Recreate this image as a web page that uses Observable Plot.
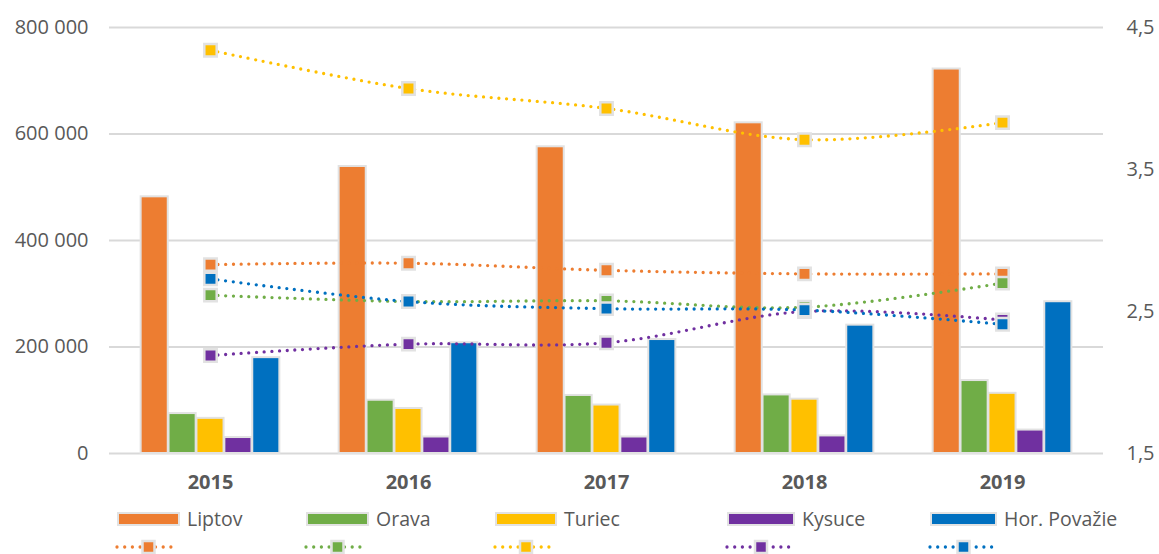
<!DOCTYPE html>
<html><head><meta charset="utf-8">
<script src="https://cdn.jsdelivr.net/npm/d3@7"></script>
<script src="https://cdn.jsdelivr.net/npm/@observablehq/plot@0.6"></script>
<style>
body{margin:0;background:#fff;font-family:"Open Sans",sans-serif;}
#wrap{position:relative;width:1159px;height:554px;overflow:hidden;}
#chart{position:absolute;left:0;top:0;}
#legend{position:absolute;left:0;top:500px;}
</style></head><body><div id="wrap"><div id="chart"></div><svg id="legend" width="1159" height="54"></svg></div>
<script>
const years = ["2015", "2016", "2017", "2018", "2019"];
const regions = ["Liptov", "Orava", "Turiec", "Kysuce", "Hor. Považie"];
const colors = ["#ED7D31", "#70AD47", "#FFC000", "#7030A0", "#0070C0"];
// bars (left axis)
const liptovBars = [482000, 539000, 576000, 621000, 722000];
const oravaBars  = [75000, 100000, 109000, 110000, 137000];
const turiecBars = [66000, 84500, 91000, 102000, 113000];
const kysuceBars = [30000, 31000, 31000, 33000, 44000];
const hpBars     = [180000, 208000, 214000, 241000, 285000];
// lines (right axis)
const liptovLine = [2.83, 2.84, 2.79, 2.765, 2.765];
const oravaLine  = [2.615, 2.57, 2.575, 2.53, 2.70];
const turiecLine = [4.34, 4.07, 3.93, 3.71, 3.83];
const kysuceLine = [2.19, 2.27, 2.28, 2.50, 2.44];
const hpLine     = [2.73, 2.57, 2.52, 2.51, 2.41];
// ticks
const leftTicks = [0, 200000, 400000, 600000, 800000];
const rightTicks = [1.5, 2.5, 3.5, 4.5];
const rightDomain = [1.5, 4.5];
const leftDomain = [0, 800000];

const barSeries = [liptovBars, oravaBars, turiecBars, kysuceBars, hpBars];
const lineSeries = [liptovLine, oravaLine, turiecLine, kysuceLine, hpLine];
const toLeft = v => (v - rightDomain[0]) / (rightDomain[1] - rightDomain[0]) * (leftDomain[1] - leftDomain[0]) + leftDomain[0];
const fromLeft = d => (d - leftDomain[0]) / (leftDomain[1] - leftDomain[0]) * (rightDomain[1] - rightDomain[0]) + rightDomain[0];
const fmtL = d3.formatLocale({thousands: " ", grouping: [3], decimal: ","}).format(",");
const fmtR = d => d3.format(".1f")(fromLeft(d)).replace(".", ",");

const bars = regions.flatMap((r, i) => years.map((y, j) => ({year: y, region: r, value: barSeries[i][j]})));
const lines = regions.flatMap((r, i) => years.map((y, j) => ({year: y, region: r, value: lineSeries[i][j]})));

const W = 1159, H = 500, ML = 109, MR = 56;
const step = (W - ML - MR) / years.length;
const bw = 27.9;
const inset = (step - bw) / 2;
const grey = "#595959";
const border = "#e2e2e2";
const dash = "0 7.7";

const marks = [
  Plot.ruleY(leftTicks, {stroke: "#d9d9d9", strokeWidth: 2, strokeOpacity: 1}),
  ...regions.map((r, i) => Plot.barY(bars.filter(d => d.region === r), {
    x: "year", y: "value", fill: colors[i], stroke: border, strokeWidth: 2,
    insetLeft: inset, insetRight: inset, dx: (i - 2) * bw
  })),
  ...regions.flatMap((r, i) => {
    const data = lines.filter(d => d.region === r);
    return [
      Plot.line(data, {x: "year", y: d => toLeft(d.value), stroke: colors[i], strokeWidth: 3.3,
        strokeDasharray: dash, strokeLinecap: "round", curve: "catmull-rom"}),
      Plot.dot(data, {x: "year", y: d => toLeft(d.value), symbol: "square", r: 7,
        fill: colors[i], stroke: border, strokeWidth: 2.5})
    ];
  }),
  Plot.axisY({anchor: "left", ticks: leftTicks, tickFormat: fmtL, tickSize: 0, tickPadding: 21,
    fontSize: 20, fill: grey, label: null}),
  Plot.axisY({anchor: "right", ticks: rightTicks.map(toLeft), tickFormat: fmtR, tickSize: 0, tickPadding: 23,
    fontSize: 20, fill: grey, label: null}),
  Plot.axisX({tickSize: 0, tickPadding: 21, fontWeight: "bold", fontSize: 20, fill: grey, label: null})
];

const chart = Plot.plot({
  width: W, height: H,
  marginLeft: ML, marginRight: MR, marginTop: 27, marginBottom: 47,
  style: {fontFamily: "Open Sans", background: "#fff", overflow: "visible"},
  x: {domain: years, padding: 0},
  y: {domain: leftDomain},
  marks
});
document.getElementById("chart").appendChild(chart);

// legend
const lg = d3.select("#legend");
const swX = [117, 306, 495, 727, 930];
const swW = [63, 63, 62, 68, 67];
regions.forEach((r, i) => {
  const g = lg.append("g");
  g.append("rect").attr("x", swX[i] + 1).attr("y", 13).attr("width", swW[i] - 2).attr("height", 12)
    .attr("fill", colors[i]).attr("stroke", border).attr("stroke-width", 2);
  g.append("text").attr("x", swX[i] + swW[i] + 7).attr("y", 19).attr("dy", "0.35em")
    .attr("font-size", 19.5).attr("fill", grey).attr("font-family", "Open Sans").text(r);
  g.append("line").attr("x1", swX[i]).attr("x2", swX[i] + swW[i] - 3).attr("y1", 47).attr("y2", 47)
    .attr("stroke", colors[i]).attr("stroke-width", 3.3).attr("stroke-dasharray", dash).attr("stroke-linecap", "round");
  const cx = swX[i] + swW[i] / 2;
  g.append("rect").attr("x", cx - 6).attr("y", 41).attr("width", 12).attr("height", 12)
    .attr("fill", colors[i]).attr("stroke", border).attr("stroke-width", 2.5);
});
</script>
</body></html>
